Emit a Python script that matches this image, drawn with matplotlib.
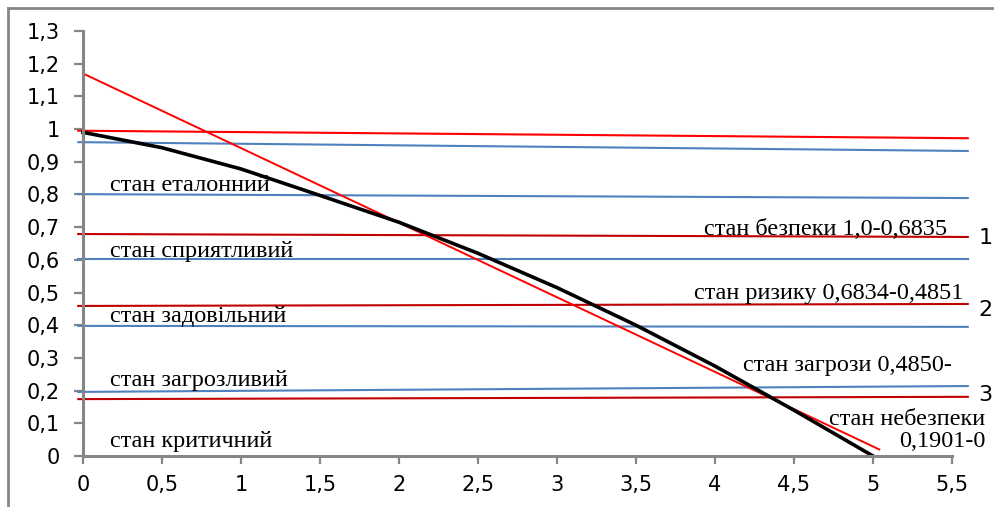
import matplotlib.pyplot as plt
from matplotlib.lines import Line2D

# крива стану (чорна)
x_curve = [0, 0.5, 1, 1.5, 2, 2.5, 3, 3.5, 4, 4.5, 5]
y_curve = [0.99, 0.943, 0.878, 0.797, 0.715, 0.62, 0.515, 0.40, 0.275, 0.14, 0.0]

# лінійний тренд (червона)
x_trend = [0, 5.04]
y_trend = [1.17, 0.02]

# межі станів: значення на лівому та правому кінці
level_x = [-0.03, 5.6]
level_start = [0.995, 0.96, 0.801, 0.679, 0.602, 0.459, 0.398, 0.196, 0.174]
level_end = [0.972, 0.933, 0.789, 0.670, 0.602, 0.465, 0.395, 0.214, 0.181]
level_colors = ['#ff0000', '#4f81bd', '#4f81bd', '#c00000', '#4f81bd',
                '#c00000', '#4f81bd', '#4f81bd', '#c00000']

x_ticks = [0, 0.5, 1, 1.5, 2, 2.5, 3, 3.5, 4, 4.5, 5, 5.5]
x_tick_labels = ['0', '0,5', '1', '1,5', '2', '2,5', '3', '3,5', '4', '4,5', '5', '5,5']
y_ticks = [0, 0.1, 0.2, 0.3, 0.4, 0.5, 0.6, 0.7, 0.8, 0.9, 1.0, 1.1, 1.2, 1.3]
y_tick_labels = ['0', '0,1', '0,2', '0,3', '0,4', '0,5', '0,6', '0,7', '0,8', '0,9',
                 '1', '1,1', '1,2', '1,3']

left_labels = ['стан еталонний', 'стан сприятливий', 'стан задовільний',
               'стан загрозливий', 'стан критичний']
left_label_y = [0.81, 0.609, 0.41, 0.214, 0.028]

right_labels = ['стан безпеки 1,0-0,6835', 'стан ризику 0,6834-0,4851',
                'стан загрози 0,4850-', 'стан небезпеки', '0,1901-0']
right_label_x = [5.47, 5.57, 5.5, 5.71, 5.71]
right_label_y = [0.676, 0.48, 0.26, 0.095, 0.028]

zone_numbers = ['1', '2', '3']
zone_number_y = [0.667, 0.447, 0.187]

grey = '#868686'

fig = plt.figure(figsize=(9.95, 5.07), dpi=100)
ax = fig.add_axes([83 / 995, 51 / 507, (952 - 83) / 995, (456 - 31) / 507])

for y0, y1, c in zip(level_start, level_end, level_colors):
    ax.plot(level_x, [y0, y1], color=c, lw=1.5, clip_on=False)

ax.plot(x_trend, y_trend, color='#ff0000', lw=1.4, clip_on=False)
ax.plot(x_curve, y_curve, color='black', lw=2.6, clip_on=False)

serif = 'Liberation Serif'
for t, y in zip(left_labels, left_label_y):
    ax.text(0.17, y, t, family=serif, fontsize=17.5, va='baseline', ha='left')
for t, x, y in zip(right_labels, right_label_x, right_label_y):
    ax.text(x, y, t, family=serif, fontsize=17.5, va='baseline', ha='right')
for t, y in zip(zone_numbers, zone_number_y):
    ax.text(5.71, y, t, fontsize=16, va='center', ha='center')

ax.set_xlim(0, 5.5)
ax.set_ylim(0, 1.3)
ax.set_xticks(x_ticks)
ax.set_xticklabels(x_tick_labels)
ax.set_yticks(y_ticks)
ax.set_yticklabels(y_tick_labels)

for s in ['top', 'right']:
    ax.spines[s].set_visible(False)
for s in ['left', 'bottom']:
    ax.spines[s].set_color(grey)
    ax.spines[s].set_linewidth(2.2)
ax.tick_params(axis='both', colors=grey, labelcolor='black', labelsize=15, width=1.6)
ax.tick_params(axis='y', length=6.5, pad=10)
ax.tick_params(axis='x', length=5.8, pad=8)

# рамка навколо діаграми
fx = 8 / 995
fy = 1 - 8 / 507
fig.add_artist(Line2D([fx, fx], [0, fy], color=grey, lw=2, transform=fig.transFigure))
fig.add_artist(Line2D([fx, 1], [fy, fy], color=grey, lw=2, transform=fig.transFigure))

fig.savefig('out.png', dpi=100)
